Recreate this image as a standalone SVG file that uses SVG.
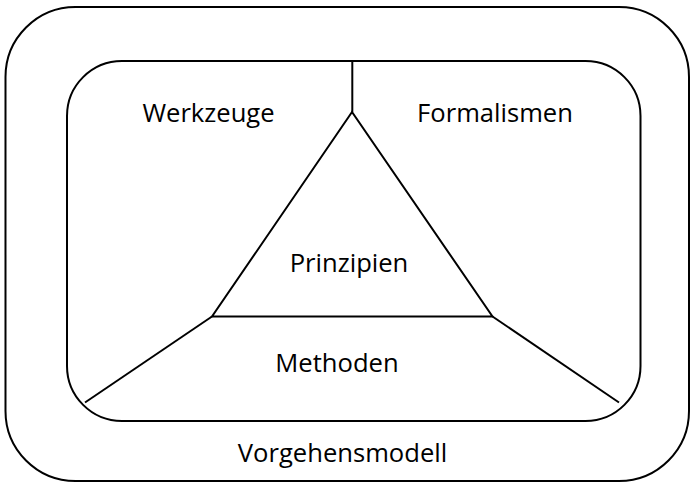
<svg xmlns="http://www.w3.org/2000/svg" width="691" height="483" viewBox="0 0 691 483">
<style>
.ln{fill:none;stroke:#000;stroke-width:2;stroke-linejoin:miter}
text{font-family:"Open Sans","Liberation Sans",sans-serif;font-size:25.6px;fill:#000;text-anchor:middle}
</style>
<rect width="691" height="483" fill="#fff"/>
<g id="vorgehensmodell">
<rect class="ln" x="5.5" y="7" width="683.5" height="474" rx="70" ry="70"/>
<text x="342.5" y="462">Vorgehensmodell</text>
</g>
<g id="rahmen">
<rect class="ln" x="67" y="61" width="573.5" height="360" rx="55" ry="55"/>
</g>
<g id="werkzeuge"><text x="208.5" y="122">Werkzeuge</text></g>
<g id="formalismen"><text x="495" y="122">Formalismen</text></g>
<g id="prinzipien">
<polygon class="ln" points="352,112 212,316.5 492.5,316.5"/>
<text x="349" y="272">Prinzipien</text>
</g>
<g id="methoden"><text x="337" y="372">Methoden</text></g>
<g id="connectors">
<line class="ln" x1="352.3" y1="61" x2="352.3" y2="112"/>
<line class="ln" x1="212" y1="316.5" x2="85" y2="402.5"/>
<line class="ln" x1="492.5" y1="316.5" x2="619" y2="402.5"/>
</g>
</svg>
